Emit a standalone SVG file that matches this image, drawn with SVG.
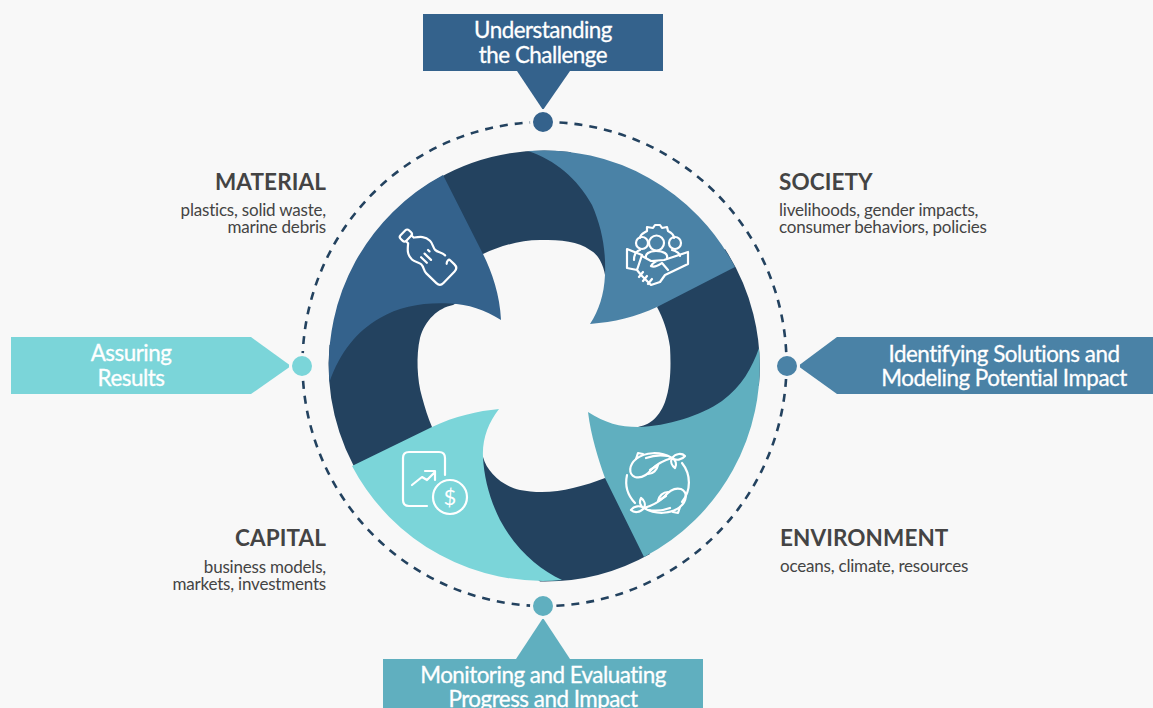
<svg xmlns="http://www.w3.org/2000/svg" width="1153" height="708" viewBox="0 0 1153 708">
<defs>
<style>
text{font-family:"Lato","Open Sans","Liberation Sans",sans-serif}
.b{font-size:22.4px;fill:#fff;stroke:#fff;stroke-width:.3px;text-anchor:middle;letter-spacing:-.5px}
.t{font-size:22.5px;font-weight:700;fill:#444;letter-spacing:.1px}
.s{font-size:17px;fill:#444;letter-spacing:-.2px}
.e{text-anchor:end}
.i{fill:none;stroke:#fff;stroke-width:2.2;stroke-linecap:round;stroke-linejoin:round}
.d{fill:#23425f}
.h{stroke:#f8f8f8;stroke-width:3}
</style>
<g id="fish">
<path d="M672,458C660,451 645,452 636,459C629,465 628,474 635,477C642,479 648,474 652,469C658,463 665,460 672,458Z"/>
<path d="M672,458C676,453 682,453 685,456C682,460 676,461 672,458ZM672,458C670,462 672,466 675,468C677,464 676,460 672,458Z"/>
<path d="M636,459L638,453L643,454M650,470L658,465C657,470 653,474 648,474M646,458C654,455 662,455 668,456"/>
</g>
</defs>
<rect width="1153" height="708" fill="#f8f8f8"/>
<g id="connectors">
<circle cx="544.5" cy="364" r="242" fill="none" stroke="#23425f" stroke-width="2.6" stroke-dasharray="8 7"/>
<path d="M517,71H570L543,110Z" fill="#34628c"/>
<path d="M837,337L798,366L837,394Z" fill="#4a82a6"/>
<path d="M516,659H570L543,618Z" fill="#60afbf"/>
<path d="M251,337L291,366L251,394Z" fill="#7bd5d9"/>
</g>
<g id="bands">
<path class="d" d="M420,190A215.5,215.5 0 0 1 570,152L640,200L640,260L606,285C606,270 600,255 590,250C578,241 562,240 540,240C520,240 500,246 483,254L470,262Z"/>
<path class="d" d="M725,249A215.5,215.5 0 0 1 759,385L720,430L640,445L630,430L638,427C648,425 658,420 665,402C671,385 671,365 670,347C668,332 663,318 657,307L680,280Z"/>
<path class="d" d="M650,554A215.5,215.5 0 0 1 540,581.5L470,520L470,455L483,457C487,472 502,486 520,490C535,493 555,493 573,488C585,485 595,482 605,478L620,480Z"/>
<path class="d" d="M362,480A215.5,215.5 0 0 1 329.5,345L400,290L470,295L453,305C438,308 425,320 420,338C416,355 417,380 422,397C425,408 428,418 432,427L440,440Z"/>
</g>
<g id="material">
<path fill="#34628c" d="M443,175L483,254C492,272 500,295 501,320C485,310 468,304 450,303.500C425,302 400,306 380,318C357,331 340,352 329.500,382A215.500,215.500 0 0 1 443,175Z"/>
<g class="i" transform="translate(426,255) rotate(-46)">
<rect x="-6" y="-32" width="12" height="8" rx="2.500"/>
<path d="M-4,-24V-21C-9,-17 -13,-14 -13,-7C-13,-3 -10,0 -10,3C-10,7 -13,9 -13,13V27Q-13,32 -8,32H8Q13,32 13,27V21C13,19 10,19 8,21M13,14C13,9 10,7 10,3C10,0 13,-3 13,-7C13,-14 9,-17 4,-21V-24"/>
<path d="M-5,-2V6M0,-2V7M5,-2V0"/>
</g>
<text class="t e" x="326" y="190">MATERIAL</text>
<text class="s e" x="326" y="216">plastics, solid waste,</text>
<text class="s e" x="326" y="233">marine debris</text>
</g>
<g id="society">
<path fill="#4a82a6" d="M528,151A215.500,215.500 0 0 1 735,267L657,307C636,317 614,322 590,324C599,310 604,295 605,275C606,250 602,228 592,205C577,178 555,160 528,151Z"/>
<g class="i">
<path d="M640,238C640,234 644,233 647,231L647,227L653,228L655,225H660L662,228L667,227L668,231C672,233 674,235 674,238"/>
<circle cx="642" cy="243" r="6"/><circle cx="656.500" cy="243" r="7.500"/><circle cx="675" cy="243" r="6"/>
<path d="M634,260C634,254 637,251 640,250M646,258C645,254 649,251 656,251C664,251 668,254 667,258M672,250C677,251 680,254 680,256"/>
<path d="M627,249L642,255L637,270L627,268ZM642,256L651,261L664,260L688,252V264L665,275L660,282L651,285L641,275L637,270M651,266C654,261 660,260 664,260M651,266C655,268 659,265 662,263L668,270M643,272L639,277M647,276L643,281M652,279L648,284"/>
</g>
<text class="t" x="779" y="190">SOCIETY</text>
<text class="s" x="779" y="216">livelihoods, gender impacts,</text>
<text class="s" x="779" y="233">consumer behaviors, policies</text>
</g>
<g id="environment">
<path fill="#60afbf" d="M759,348A215.500,215.500 0 0 1 644,557L605,478C598,458 591,436 588,412C605,423 620,427 638,427C668,426 700,416 722,401C742,386 752,368 759,348Z"/>
<g class="i">
<use href="#fish"/>
<use href="#fish" transform="rotate(180 658 483)"/>
<path d="M682,463A31,31 0 0 1 682,502M627,475A31,31 0 0 0 635,503"/>
</g>
<text class="t" x="780" y="546">ENVIRONMENT</text>
<text class="s" x="780" y="572">oceans, climate, resources</text>
</g>
<g id="capital">
<path fill="#7bd5d9" d="M352,466L432,427C455,416 478,411 499,409C488,423 482,440 483,457C484,478 490,500 500,520C516,550 540,570 562,580A215.500,215.500 0 0 1 352,466Z"/>
<g class="i">
<path d="M445,475V458Q445,452 439,452H409Q403,452 403,458V500Q403,506 409,506H427"/>
<path d="M412,485L422,477L427,480L435,472M425,471H435V480"/>
<circle cx="450" cy="497" r="17"/>
</g>
<text x="450" y="505" font-size="22" fill="#fff" text-anchor="middle">$</text>
<text class="t e" x="326" y="546">CAPITAL</text>
<text class="s e" x="326" y="573">business models,</text>
<text class="s e" x="326" y="590">markets, investments</text>
</g>
<g id="understanding">
<rect x="423" y="14" width="240" height="57" fill="#34628c"/>
<circle class="h" cx="543" cy="122" r="11.500" fill="#34628c"/>
<text class="b" x="543" y="38">Understanding</text>
<text class="b" x="543" y="63">the Challenge</text>
</g>
<g id="identifying">
<rect x="837" y="337" width="316" height="57" fill="#4a82a6"/>
<circle class="h" cx="787" cy="366" r="11.500" fill="#4a82a6"/>
<text class="b" x="1004" y="362">Identifying Solutions and</text>
<text class="b" x="1004" y="386">Modeling Potential Impact</text>
</g>
<g id="monitoring">
<rect x="383" y="659" width="320" height="49" fill="#60afbf"/>
<circle class="h" cx="543" cy="606" r="11.500" fill="#60afbf"/>
<text class="b" x="543" y="683">Monitoring and Evaluating</text>
<text class="b" x="543" y="707">Progress and Impact</text>
</g>
<g id="assuring">
<rect x="11" y="337" width="240" height="57" fill="#7bd5d9"/>
<circle class="h" cx="302" cy="366" r="11.500" fill="#7bd5d9"/>
<text class="b" x="131" y="361">Assuring</text>
<text class="b" x="131" y="386">Results</text>
</g>
</svg>
